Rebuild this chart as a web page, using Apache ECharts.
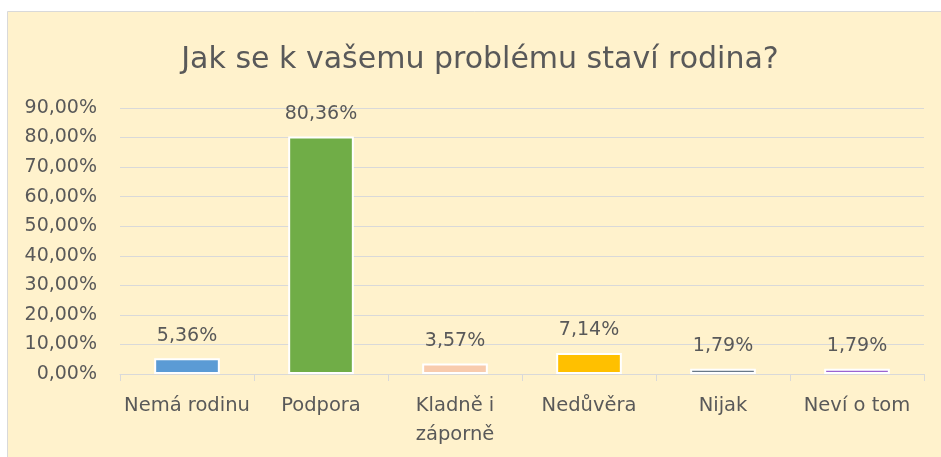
<!DOCTYPE html>
<html>
<head>
<meta charset="utf-8">
<script src="https://cdn.jsdelivr.net/npm/echarts@6/dist/echarts.min.js"></script>
<style>
    html, body { margin: 0; padding: 0; background: #ffffff; }
    #chart { width: 941px; height: 457px; }
</style>
</head>
<body>
<div id="chart"></div>
<script>
// data
const kategorie = ['Nemá rodinu', 'Podpora', 'Kladně i\nzáporně', 'Nedůvěra', 'Nijak', 'Neví o tom']
const hodnoty = [5.36, 80.36, 3.57, 7.14, 1.79, 1.79]
const barvy = ['#5B9BD5', '#70AD47', '#F8CBAD', '#FFC000', '#687888', '#9A63D1']
const osaY = { min: 0, max: 90, interval: 10 }

const font = 'DejaVu Sans'
const textColor = '#595959'

const formatPct = (v) => v.toFixed(2).replace('.', ',') + '%'

var chart = echarts.init(document.getElementById('chart'))
option = {
    backgroundColor: '#ffffff',
    animation: false,
    graphic: [
        {
            type: 'rect',
            z: -10,
            shape: { x: 7.5, y: 11.5, width: 940, height: 450 },
            style: { fill: '#FFF2CC', stroke: '#D9D9D9', lineWidth: 1 }
        }
    ],
    title: {
        text: 'Jak se k vašemu problému staví rodina?',
        left: 480,
        top: 45,
        textAlign: 'center',
        padding: 0,
        textStyle: {
            fontFamily: font,
            fontSize: 30,
            fontWeight: 'normal',
            color: textColor
        }
    },
    grid: {
        left: 120,
        right: 17,
        top: 108,
        bottom: 83,
        containLabel: false,
        outerBoundsMode: 'none'
    },
    xAxis: {
        type: 'category',
        data: kategorie,
        axisLine: { lineStyle: { color: '#D9D9D9', width: 1 } },
        axisTick: { show: true, length: 7, lineStyle: { color: '#D9D9D9' } },
        axisLabel: {
            fontFamily: font,
            fontSize: 19.5,
            color: textColor,
            lineHeight: 29,
            margin: 17,
            interval: 0
        }
    },
    yAxis: {
        type: 'value',
        min: osaY.min,
        max: osaY.max,
        interval: osaY.interval,
        axisLine: { show: false },
        axisTick: { show: false },
        splitLine: { lineStyle: { color: '#D9D9D9', width: 1 } },
        axisLabel: {
            fontFamily: font,
            fontSize: 19,
            color: textColor,
            margin: 23,
            formatter: (v) => formatPct(v)
        }
    },
    series: [
        {
            type: 'bar',
            barWidth: '49%',
            data: hodnoty.map((v, i) => ({
                value: v,
                itemStyle: { color: barvy[i] }
            })),
            itemStyle: {
                borderColor: '#ffffff',
                borderWidth: 2
            },
            label: {
                show: true,
                position: 'top',
                distance: 13,
                fontFamily: font,
                fontSize: 19,
                color: textColor,
                formatter: (p) => formatPct(p.value)
            }
        }
    ]
}
chart.setOption(option)
</script>
</body>
</html>
